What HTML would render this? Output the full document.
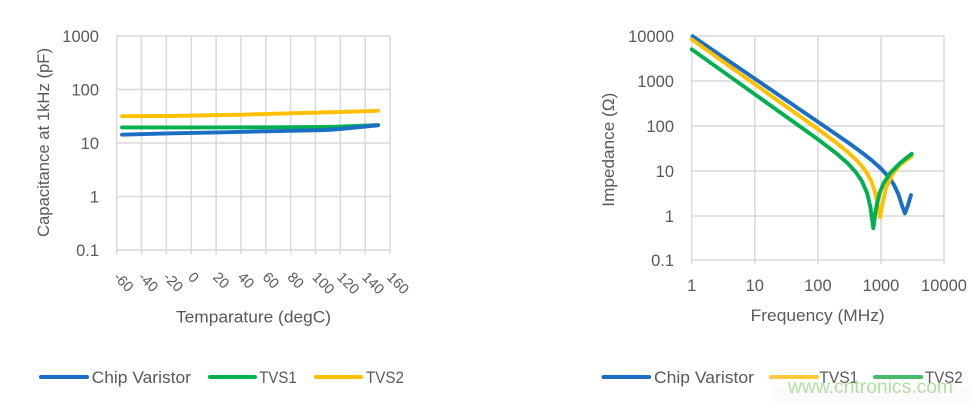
<!DOCTYPE html>
<html>
<head>
<meta charset="utf-8">
<style>
  html,body{margin:0;padding:0;background:#fff;}
  svg{display:block;}
  text{font-family:"Liberation Sans",Arial,sans-serif;fill:#595959;}
</style>
</head>
<body>
<svg width="971" height="402" viewBox="0 0 971 402" xmlns="http://www.w3.org/2000/svg">
  <rect x="0" y="0" width="971" height="402" fill="#ffffff"/>

  <!-- ================= LEFT CHART ================= -->
  <g stroke="#d9d9d9" stroke-width="1.5" fill="none">
    <line x1="116.7" y1="36" x2="390" y2="36"/>
    <line x1="116.7" y1="89.5" x2="390" y2="89.5"/>
    <line x1="116.7" y1="143" x2="390" y2="143"/>
    <line x1="116.7" y1="196.5" x2="390" y2="196.5"/>
    <line x1="116.7" y1="250" x2="390" y2="250"/>
    <line x1="116.7" y1="36" x2="116.7" y2="254"/>
    <line x1="141.5" y1="36" x2="141.5" y2="254"/>
    <line x1="166.4" y1="36" x2="166.4" y2="254"/>
    <line x1="191.2" y1="36" x2="191.2" y2="254"/>
    <line x1="216.1" y1="36" x2="216.1" y2="254"/>
    <line x1="240.9" y1="36" x2="240.9" y2="254"/>
    <line x1="265.8" y1="36" x2="265.8" y2="254"/>
    <line x1="290.6" y1="36" x2="290.6" y2="254"/>
    <line x1="315.5" y1="36" x2="315.5" y2="254"/>
    <line x1="340.3" y1="36" x2="340.3" y2="254"/>
    <line x1="365.2" y1="36" x2="365.2" y2="254"/>
    <line x1="390" y1="36" x2="390" y2="254"/>
  </g>

  <g font-size="16.5" text-anchor="end">
    <text x="99" y="42">1000</text>
    <text x="99" y="95.5">100</text>
    <text x="99" y="149">10</text>
    <text x="99" y="202.5">1</text>
    <text x="99" y="256">0.1</text>
  </g>

  <g font-size="14.5">
    <text transform="translate(112.7,278) rotate(45)">-60</text>
    <text transform="translate(137.5,278) rotate(45)">-40</text>
    <text transform="translate(162.4,278) rotate(45)">-20</text>
    <text transform="translate(187.2,278) rotate(45)">0</text>
    <text transform="translate(212.1,278) rotate(45)">20</text>
    <text transform="translate(236.9,278) rotate(45)">40</text>
    <text transform="translate(261.8,278) rotate(45)">60</text>
    <text transform="translate(286.6,278) rotate(45)">80</text>
    <text transform="translate(311.5,278) rotate(45)">100</text>
    <text transform="translate(336.3,278) rotate(45)">120</text>
    <text transform="translate(361.2,278) rotate(45)">140</text>
    <text transform="translate(386,278) rotate(45)">160</text>
  </g>

  <text x="176" y="322.5" font-size="17" textLength="155" lengthAdjust="spacingAndGlyphs">Temparature (degC)</text>
  <text transform="translate(49,237) rotate(-90)" font-size="16.5" textLength="189" lengthAdjust="spacingAndGlyphs">Capacitance at 1kHz (pF)</text>

  <g fill="none" stroke-width="3.9" stroke-linecap="round" stroke-linejoin="round">
    <polyline stroke="#ffc000" points="122,116.2 166.7,116 241.7,114.7 290,113.3 340,112 378,110.8"/>
    <polyline stroke="#00b050" points="122,127.4 200,127.4 290,127.2 323,127 340,126.6 378,125.1"/>
    <polyline stroke="#1a6fc4" points="122,134.7 166.7,133.4 216.7,132.4 290,130.8 326.7,130 340,129 378,125.3"/>
  </g>

  <g stroke-width="4" stroke-linecap="round">
    <line x1="41" y1="377" x2="87" y2="377" stroke="#1a6fc4"/>
    <line x1="210" y1="377" x2="255" y2="377" stroke="#00b050"/>
    <line x1="316" y1="377" x2="361" y2="377" stroke="#ffc000"/>
  </g>
  <g font-size="17">
    <text x="91.7" y="383" textLength="99.3" lengthAdjust="spacingAndGlyphs">Chip Varistor</text>
    <text x="259.3" y="383" textLength="37.4" lengthAdjust="spacingAndGlyphs">TVS1</text>
    <text x="366" y="383" textLength="38" lengthAdjust="spacingAndGlyphs">TVS2</text>
  </g>

  <!-- ================= RIGHT CHART ================= -->
  <g stroke="#d9d9d9" stroke-width="1.5" fill="none">
    <line x1="691.7" y1="36" x2="944" y2="36"/>
    <line x1="691.7" y1="81" x2="944" y2="81"/>
    <line x1="691.7" y1="126" x2="944" y2="126"/>
    <line x1="691.7" y1="171" x2="944" y2="171"/>
    <line x1="691.7" y1="216" x2="944" y2="216"/>
    <line x1="691.7" y1="260" x2="944" y2="260"/>
    <line x1="691.7" y1="36" x2="691.7" y2="264"/>
    <line x1="754.8" y1="36" x2="754.8" y2="264"/>
    <line x1="817.9" y1="36" x2="817.9" y2="264"/>
    <line x1="881" y1="36" x2="881" y2="264"/>
    <line x1="944" y1="36" x2="944" y2="264"/>
  </g>

  <g font-size="16.5" text-anchor="end">
    <text x="674" y="42">10000</text>
    <text x="674" y="87">1000</text>
    <text x="674" y="132">100</text>
    <text x="674" y="177">10</text>
    <text x="674" y="222">1</text>
    <text x="674" y="266">0.1</text>
  </g>
  <g font-size="16.5" text-anchor="middle">
    <text x="691.7" y="291">1</text>
    <text x="754.8" y="291">10</text>
    <text x="817.9" y="291">100</text>
    <text x="881" y="291">1000</text>
    <text x="944" y="291">10000</text>
  </g>

  <text x="750.7" y="321" font-size="17" textLength="134" lengthAdjust="spacingAndGlyphs">Frequency (MHz)</text>
  <text transform="translate(614,206.7) rotate(-90)" font-size="16.5" textLength="114" lengthAdjust="spacingAndGlyphs">Impedance (Ω)</text>

  <g fill="none" stroke-width="3.9" stroke-linecap="round" stroke-linejoin="round">
    <polyline stroke="#1a6fc4" points="692.5,36.2 817.9,121.8 848,142.5 862,152.7 871.2,159.8 880.9,168.5 888.1,176.3 893.8,184.5 898.5,194.5 901.9,205.2 904.9,213.4 907.6,206.3 911,195.1"/>
    <polyline stroke="#ffc000" points="691.7,39.3 817.9,129.1 836.9,143.2 848,152.3 855.8,159.5 862,166.3 867,173.2 871.2,181 874.8,191.2 877.4,203.1 880,217.3 882.3,204.7 885.9,188.5 892,174.9 899.9,165 911.7,156.2"/>
    <polyline stroke="#00b050" points="691.7,49.3 817.9,139.3 836.9,153.8 848,163.6 855.8,172.2 862,181.3 867,192.8 870.4,207 873.3,228.2 875.8,209.7 879.5,193.2 883.5,183.5 890.2,173.1 899.9,163.2 911.7,153.8"/>
  </g>

  <rect x="772" y="386" width="199" height="16" fill="#fbfbfb"/>

  <g stroke-width="4" stroke-linecap="round">
    <line x1="603.5" y1="377" x2="649" y2="377" stroke="#1a6fc4"/>
    <line x1="771" y1="377" x2="817" y2="377" stroke="#ffc83d"/>
    <line x1="875" y1="377" x2="921" y2="377" stroke="#47bb6a"/>
  </g>
  <g font-size="17">
    <text x="654" y="383" textLength="100" lengthAdjust="spacingAndGlyphs">Chip Varistor</text>
    <text x="819.3" y="383" textLength="39" lengthAdjust="spacingAndGlyphs">TVS1</text>
    <text x="925" y="383" textLength="37.7" lengthAdjust="spacingAndGlyphs">TVS2</text>
  </g>

  <text x="788" y="393" font-size="19" style="fill:#b3dea0" textLength="165" lengthAdjust="spacingAndGlyphs">www.cntronics.com</text>
</svg>
</body>
</html>
